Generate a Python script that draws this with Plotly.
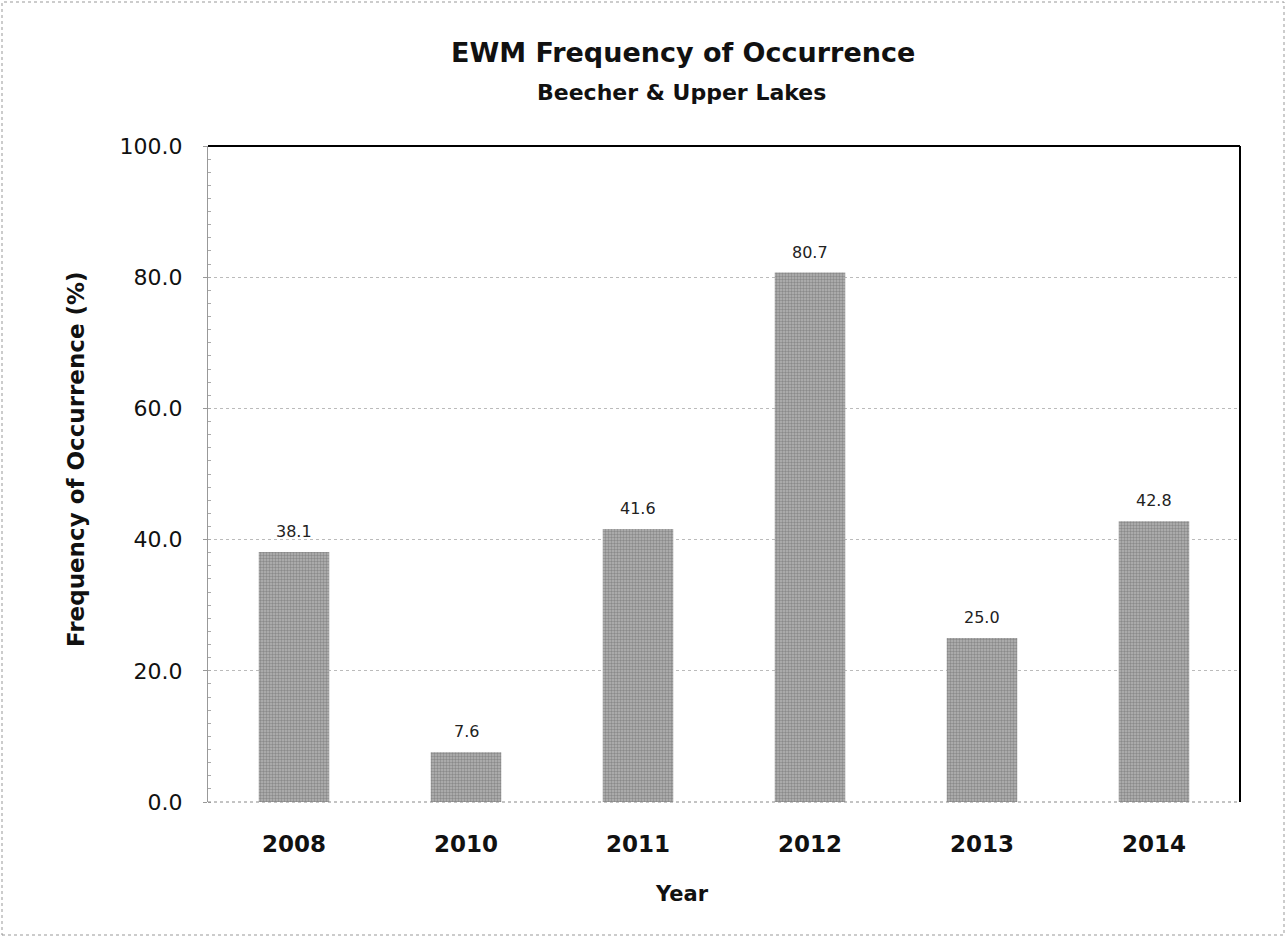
import plotly.graph_objects as go

years = ["2008", "2010", "2011", "2012", "2013", "2014"]
values = [38.1, 7.6, 41.6, 80.7, 25.0, 42.8]
y_ticks = [0, 20, 40, 60, 80, 100]

FONT = "DejaVu Sans, sans-serif"
L, R, T, B = 208, 47, 146, 136
W, H = 1287, 938
PW, PH = W - L - R, H - T - B

def px(x):
    return (x - L) / PW

def py(y):
    return (H - B - y) / PH

fig = go.Figure()
fig.add_trace(go.Bar(
    x=years, y=values,
    marker=dict(color="#9d9d9d", line=dict(width=0),
                pattern=dict(shape=".", fgcolor="#626262", bgcolor="#b3b3b3", size=3, solidity=0.5)),
    width=0.41,
))

# value labels above bars (category index positions)
for i, v in enumerate(values):
    fig.add_annotation(x=i, y=v, text=f"{v:.1f}", showarrow=False,
                       xanchor="center", yanchor="bottom", yshift=9,
                       font=dict(family=FONT, size=16, color="#222222"))

fig.update_layout(
    width=W, height=H,
    paper_bgcolor="white", plot_bgcolor="white",
    margin=dict(l=L, r=R, t=T, b=B),
    showlegend=False,
    font=dict(family=FONT, color="#111111"),
)

fig.update_xaxes(
    type="category", categoryorder="array", categoryarray=years,
    range=[-0.5, len(years) - 0.5],
    showline=False, showgrid=False, ticks="",
    tickfont=dict(family=FONT, size=23, color="#111111", weight="bold"),
    ticklabelstandoff=26,
)

fig.update_yaxes(
    range=[0, 100], tickvals=y_ticks, ticktext=[f"{t:.1f}" for t in y_ticks],
    tickfont=dict(family=FONT, size=22, color="#111111"),
    showgrid=True, gridcolor="#bbbbbb", griddash="dot", gridwidth=1,
    showline=True, linecolor="#999999", linewidth=1,
    ticks="outside", ticklen=4, tickcolor="#999999",
    minor=dict(ticks="inside", ticklen=3, tickcolor="#aaaaaa", dtick=2, showgrid=False),
    zeroline=False,
    ticklabelstandoff=16,
)

# titles as annotations
fig.add_annotation(text="<b>EWM Frequency of Occurrence</b>", xref="paper", yref="paper",
                   x=px(683), y=py(53), xanchor="center", yanchor="middle", showarrow=False,
                   font=dict(family=FONT, size=27, color="#111111"))
fig.add_annotation(text="<b>Beecher &amp; Upper Lakes</b>", xref="paper", yref="paper",
                   x=px(681), y=py(93), xanchor="center", yanchor="middle", showarrow=False,
                   font=dict(family=FONT, size=22, color="#111111"))
fig.add_annotation(text="<b>Frequency of Occurrence (%)</b>", xref="paper", yref="paper",
                   x=px(76), y=py(459), xanchor="center", yanchor="middle", showarrow=False,
                   textangle=-90, font=dict(family=FONT, size=23, color="#111111"))
fig.add_annotation(text="<b>Year</b>", xref="paper", yref="paper",
                   x=px(682), y=py(894), xanchor="center", yanchor="middle", showarrow=False,
                   font=dict(family=FONT, size=21, color="#111111"))

# plot-area frame: black top and right, dotted bottom
fig.add_shape(type="line", xref="paper", yref="paper", x0=0, x1=1, y0=1, y1=1,
              line=dict(color="black", width=2))
fig.add_shape(type="line", xref="paper", yref="paper", x0=1, x1=1, y0=0, y1=1,
              line=dict(color="black", width=2))
fig.add_shape(type="line", xref="paper", yref="paper", x0=0, x1=1, y0=0, y1=0,
              line=dict(color="#888888", width=1, dash="dot"))

# outer dotted border of the chart
fig.add_shape(type="rect", xref="paper", yref="paper",
              x0=px(2), x1=px(1284), y0=py(935), y1=py(2),
              line=dict(color="#999999", width=1, dash="dot"))

fig.write_html("out.html", config={"displayModeBar": False},
               post_script="document.body.style.margin='0';")
